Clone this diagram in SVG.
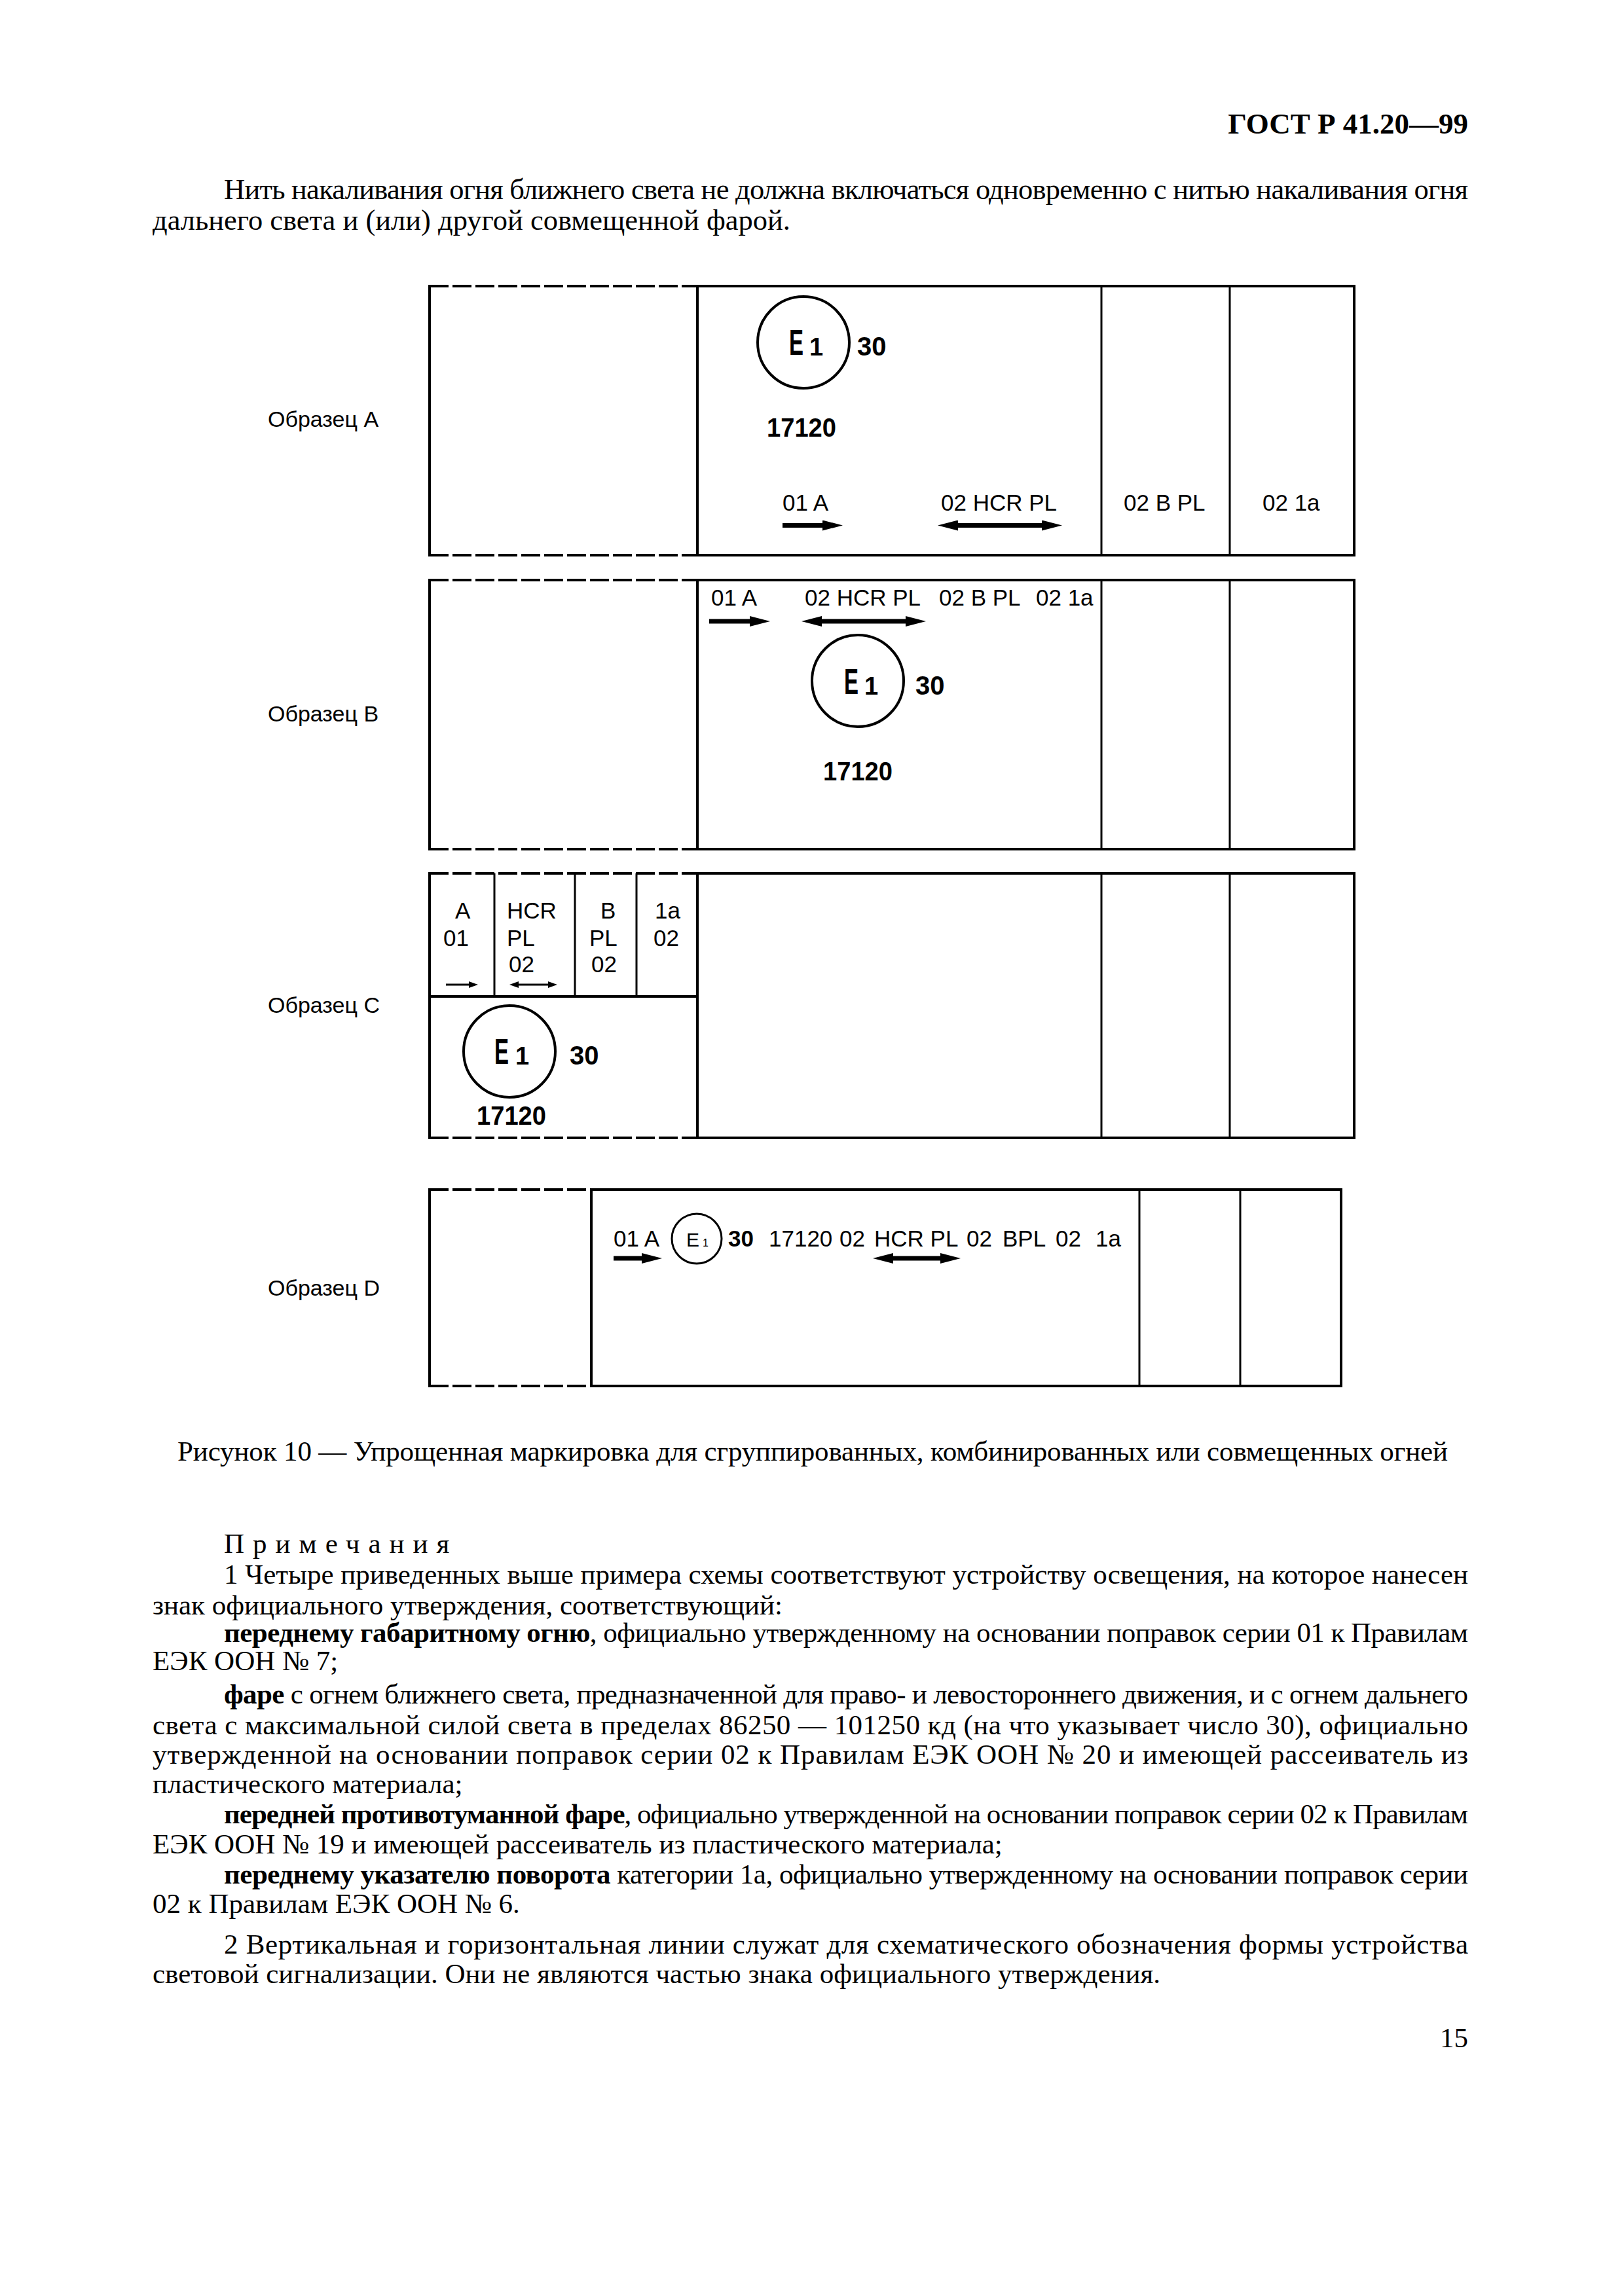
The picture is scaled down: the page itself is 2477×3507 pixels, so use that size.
<svg xmlns="http://www.w3.org/2000/svg" width="2477" height="3507" viewBox="0 0 2477 3507">
<style>
.bg{fill:#fff}
.frame{fill:none;stroke:#000;stroke-width:4}
.div{fill:none;stroke:#000;stroke-width:3}
.dash{fill:none;stroke:#000;stroke-width:4;stroke-dasharray:29 6}
.ring{fill:none;stroke:#000;stroke-width:4}
.ring-s{fill:none;stroke:#000;stroke-width:3}
.shaft{fill:none;stroke:#000;stroke-width:7;marker-end:url(#ah)}
.shaft2{fill:none;stroke:#000;stroke-width:7;marker-start:url(#ah);marker-end:url(#ah)}
.shaft-s{fill:none;stroke:#000;stroke-width:3;marker-end:url(#ahs)}
.shaft2-s{fill:none;stroke:#000;stroke-width:3;marker-start:url(#ahs);marker-end:url(#ahs)}
.sans{font-family:"Liberation Sans",Arial,sans-serif;fill:#000}
.lbl{font-size:34px}
.mk{font-size:35px}
.eb{font-size:56px;font-weight:bold}
.sub{font-size:38px;font-weight:bold}
.num{font-size:40px;font-weight:bold}
.serif{font-family:"Liberation Serif","Times New Roman",serif;fill:#000;font-size:43px}
.big{font-size:44.5px}
.hdr{font-size:45px;font-weight:bold}
.b{font-weight:bold}
</style>
<defs>
<marker id="ah" markerUnits="userSpaceOnUse" markerWidth="31" markerHeight="16" refX="0" refY="8" orient="auto-start-reverse" viewBox="0 0 31 16"><path d="M0,0 L31,8 L0,16 z" fill="#000"/></marker>
<marker id="ahs" markerUnits="userSpaceOnUse" markerWidth="14" markerHeight="10" refX="0" refY="5" orient="auto-start-reverse" viewBox="0 0 14 10"><path d="M0,0 L14,5 L0,10 z" fill="#000"/></marker>
</defs>
<rect class="bg" x="0" y="0" width="2477" height="3507"/>

<g id="page-text" class="serif">
<text class="hdr" x="2242" y="204" text-anchor="end">ГОСТ Р 41.20—99</text>
<text class="big" x="342" y="304" textLength="1900" lengthAdjust="spacing">Нить накаливания огня ближнего света не должна включаться одновременно с нитью накаливания огня</text>
<text class="big" x="233" y="351">дальнего света и (или) другой совмещенной фарой.</text>
</g>

<g id="sample-a">
<text class="sans lbl" x="409" y="652">Образец А</text>
<path class="dash" d="M656,437 H1065 M656,848 H1065"/>
<path class="frame" d="M656,435 V850"/>
<rect class="frame" x="1065" y="437" width="1003" height="411"/>
<path class="div" d="M1682,437 V848 M1878,437 V848"/>
<circle class="ring" cx="1227" cy="523" r="70"/>
<text class="sans" y="542"><tspan class="eb" x="1205" textLength="22" lengthAdjust="spacingAndGlyphs">E</tspan><tspan class="sub" x="1236" y="543">1</tspan></text>
<text class="sans num" x="1309" y="543">30</text>
<text class="sans num" x="1171" y="667" textLength="106" lengthAdjust="spacingAndGlyphs">17120</text>
<text class="sans mk" x="1195" y="780">01 A</text>
<text class="sans mk" x="1437" y="780">02 HCR PL</text>
<text class="sans mk" x="1716" y="780">02 B PL</text>
<text class="sans mk" x="1928" y="780">02 1a</text>
<path class="shaft" d="M1195,802.5 H1256"/>
<path class="shaft2" d="M1463,802.5 H1591"/>
</g>

<g id="sample-b">
<text class="sans lbl" x="409" y="1102">Образец В</text>
<path class="dash" d="M656,886 H1065 M656,1297 H1065"/>
<path class="frame" d="M656,884 V1299"/>
<rect class="frame" x="1065" y="886" width="1003" height="411"/>
<path class="div" d="M1682,886 V1297 M1878,886 V1297"/>
<text class="sans mk" x="1086" y="925">01 A</text>
<text class="sans mk" x="1229" y="925">02 HCR PL</text>
<text class="sans mk" x="1434" y="925">02 B PL</text>
<text class="sans mk" x="1582" y="925">02 1a</text>
<path class="shaft" d="M1083,949 H1145"/>
<path class="shaft2" d="M1255,949 H1383"/>
<circle class="ring" cx="1310" cy="1040" r="70"/>
<text class="sans" y="1060"><tspan class="eb" x="1289" textLength="22" lengthAdjust="spacingAndGlyphs">E</tspan><tspan class="sub" x="1320" y="1061">1</tspan></text>
<text class="sans num" x="1398" y="1061">30</text>
<text class="sans num" x="1257" y="1192" textLength="106" lengthAdjust="spacingAndGlyphs">17120</text>
</g>

<g id="sample-c">
<text class="sans lbl" x="409" y="1547">Образец С</text>
<path class="dash" d="M656,1334 H1065 M656,1738 H1065"/>
<path class="frame" d="M656,1332 V1740"/>
<path class="frame" d="M656,1522 H1065"/>
<path class="div" d="M755,1334 V1522 M878,1334 V1522 M972,1334 V1522"/>
<rect class="frame" x="1065" y="1334" width="1003" height="404"/>
<path class="div" d="M1682,1334 V1738 M1878,1334 V1738"/>
<text class="sans mk" x="695" y="1403">A</text>
<text class="sans mk" x="677" y="1445">01</text>
<text class="sans mk" x="774" y="1403">HCR</text>
<text class="sans mk" x="774" y="1445">PL</text>
<text class="sans mk" x="777" y="1485">02</text>
<text class="sans mk" x="917" y="1403">B</text>
<text class="sans mk" x="900" y="1445">PL</text>
<text class="sans mk" x="903" y="1485">02</text>
<text class="sans mk" x="1000" y="1403">1a</text>
<text class="sans mk" x="998" y="1445">02</text>
<path class="shaft-s" d="M681,1504 H716"/>
<path class="shaft2-s" d="M792,1504 H837"/>
<circle class="ring" cx="778" cy="1606" r="70"/>
<text class="sans" y="1625"><tspan class="eb" x="755" textLength="22" lengthAdjust="spacingAndGlyphs">E</tspan><tspan class="sub" x="787" y="1626">1</tspan></text>
<text class="sans num" x="870" y="1626">30</text>
<text class="sans num" x="728" y="1718" textLength="106" lengthAdjust="spacingAndGlyphs">17120</text>
</g>

<g id="sample-d">
<text class="sans lbl" x="409" y="1979">Образец D</text>
<path class="dash" d="M656,1817 H903 M656,2117 H903"/>
<path class="frame" d="M656,1815 V2119"/>
<rect class="frame" x="903" y="1817" width="1145" height="300"/>
<path class="div" d="M1740,1817 V2117 M1894,1817 V2117"/>
<text class="sans mk" x="937" y="1904">01 A</text>
<circle class="ring-s" cx="1064" cy="1892" r="38"/>
<text class="sans" y="1904"><tspan x="1048" font-size="30">E</tspan><tspan x="1073" font-size="16">1</tspan></text>
<text class="sans mk b" x="1112" y="1904">30</text>
<text class="sans mk" y="1904"><tspan x="1174">17120</tspan><tspan x="1282">02</tspan><tspan x="1335">HCR PL</tspan><tspan x="1476">02</tspan><tspan x="1531">BPL</tspan><tspan x="1612">02</tspan><tspan x="1673">1a</tspan></text>
<path class="shaft" d="M937,1922 H980"/>
<path class="shaft2" d="M1364,1922 H1436"/>
</g>

<g id="caption-notes" class="serif">
<text x="271" y="2231" textLength="1940" lengthAdjust="spacing">Рисунок 10 — Упрощенная маркировка для сгруппированных, комбинированных или совмещенных огней</text>
<text x="342" y="2372" letter-spacing="13">Примечания</text>
<text x="342" y="2419" textLength="1900" lengthAdjust="spacing">1 Четыре приведенных выше примера схемы соответствуют устройству освещения, на которое нанесен</text>
<text x="233" y="2466">знак официального утверждения, соответствующий:</text>
<text x="342" y="2508" textLength="1900" lengthAdjust="spacing"><tspan class="b">переднему габаритному огню</tspan>, официально утвержденному на основании поправок серии 01 к  Правилам</text>
<text x="233" y="2551">ЕЭК ООН № 7;</text>
<text x="342" y="2602" textLength="1900" lengthAdjust="spacing"><tspan class="b">фаре</tspan> с огнем ближнего света, предназначенной для право- и левостороннего движения, и с огнем дальнего</text>
<text x="233" y="2649" textLength="2009" lengthAdjust="spacing">света с максимальной силой света в пределах 86250 — 101250 кд (на что указывает число 30), официально</text>
<text x="233" y="2694" textLength="2009" lengthAdjust="spacing">утвержденной на основании поправок серии 02 к Правилам ЕЭК ООН № 20 и имеющей рассеиватель из</text>
<text x="233" y="2739">пластического материала;</text>
<text x="342" y="2785" textLength="1900" lengthAdjust="spacing"><tspan class="b">передней противотуманной фаре</tspan>, официально утвержденной на основании поправок серии 02 к Правилам</text>
<text x="233" y="2831">ЕЭК ООН № 19 и имеющей рассеиватель из пластического материала;</text>
<text x="342" y="2877" textLength="1900" lengthAdjust="spacing"><tspan class="b">переднему указателю поворота</tspan> категории 1а, официально утвержденному на основании поправок серии</text>
<text x="233" y="2922">02 к Правилам ЕЭК ООН № 6.</text>
<text x="342" y="2984" textLength="1900" lengthAdjust="spacing">2 Вертикальная и горизонтальная линии служат для схематического обозначения формы устройства</text>
<text x="233" y="3029">световой сигнализации. Они не являются частью знака официального утверждения.</text>
<text x="2242" y="3127" text-anchor="end">15</text>
</g>
</svg>
